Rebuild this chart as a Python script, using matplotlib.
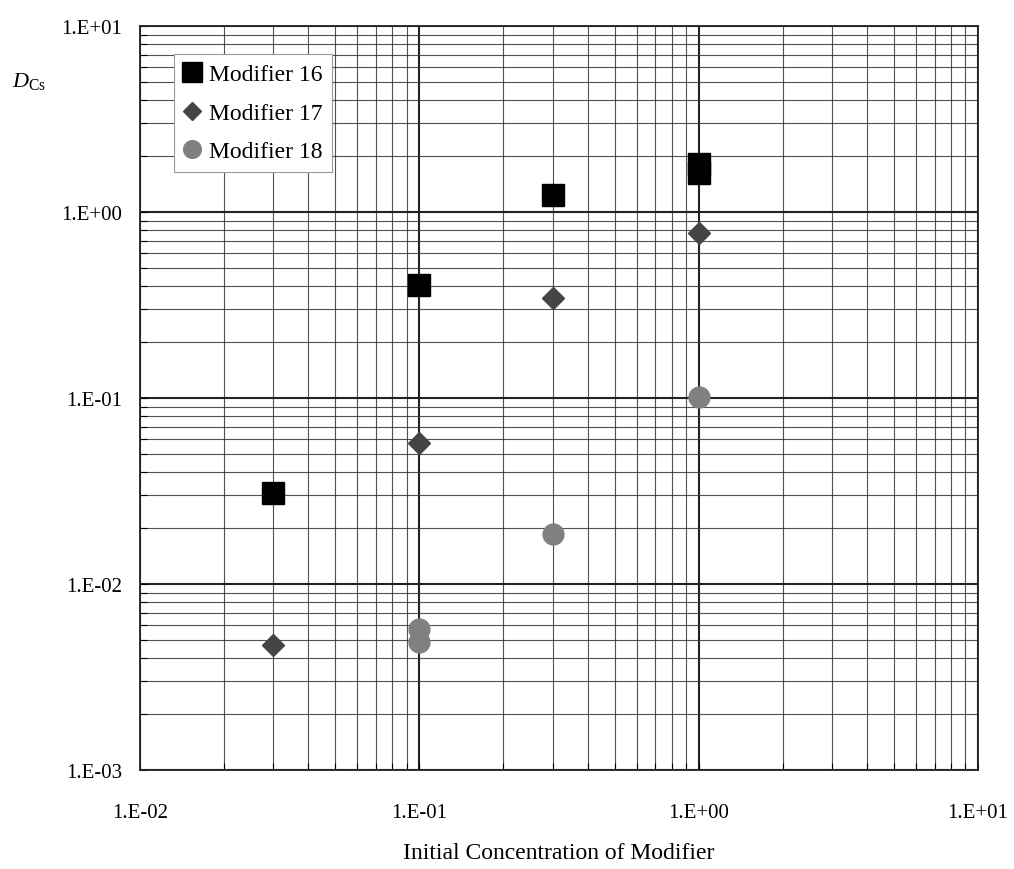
import matplotlib
matplotlib.use("Agg")
import matplotlib.pyplot as plt
from matplotlib.ticker import LogLocator, NullFormatter

plt.rcParams['font.family'] = ['Liberation Serif', 'DejaVu Serif']
plt.rcParams['mathtext.fontset'] = 'custom'
plt.rcParams['mathtext.rm'] = 'Liberation Serif'
plt.rcParams['mathtext.it'] = 'Liberation Serif:italic'

# Data
mod16_x = [0.03, 0.1, 0.3, 1.0, 1.0]
mod16_y = [0.031, 0.405, 1.23, 1.63, 1.82]
mod17_x = [0.03, 0.1, 0.3, 1.0]
mod17_y = [0.0047, 0.057, 0.345, 0.77]
mod18_x = [0.1, 0.1, 0.3, 1.0]
mod18_y = [0.0057, 0.0049, 0.0186, 0.101]

xticks = [0.01, 0.1, 1, 10]
xticklabels = ["1.E-02", "1.E-01", "1.E+00", "1.E+01"]
yticks = [0.001, 0.01, 0.1, 1, 10]
yticklabels = ["1.E-03", "1.E-02", "1.E-01", "1.E+00", "1.E+01"]

fig = plt.figure(figsize=(10.14, 8.70), dpi=100)
ax = fig.add_axes([140/1014, 99/870, 838/1014, 744/870])
ax.set_xscale('log')
ax.set_yscale('log')
ax.set_xlim(0.01, 10)
ax.set_ylim(0.001, 10)

ax.set_xticks(xticks)
ax.set_xticklabels(xticklabels)
ax.set_yticks(yticks)
ax.set_yticklabels(yticklabels)
ax.xaxis.set_minor_locator(LogLocator(base=10, subs=range(2, 10), numticks=20))
ax.yaxis.set_minor_locator(LogLocator(base=10, subs=range(2, 10), numticks=20))
ax.xaxis.set_minor_formatter(NullFormatter())
ax.yaxis.set_minor_formatter(NullFormatter())

ax.grid(which='major', color='#222222', linewidth=1.5)
ax.grid(which='minor', color='#333333', linewidth=0.8, alpha=0.85)
ax.set_axisbelow(True)

ax.tick_params(which='both', direction='in', length=5, width=0.8, labelsize=15)
ax.tick_params(axis='x', pad=24)
ax.tick_params(axis='y', pad=13)
for s in ax.spines.values():
    s.set_linewidth(1.3)
    s.set_color('#222222')

ax.plot(mod16_x, mod16_y, linestyle='none', marker='s', markersize=16.5,
        color='black', label='Modifier 16', zorder=5)
ax.plot(mod17_x, mod17_y, linestyle='none', marker='D', markersize=11,
        color='#454545', label='Modifier 17', zorder=5)
ax.plot(mod18_x, mod18_y, linestyle='none', marker='o', markersize=15,
        color='#808080', label='Modifier 18', zorder=5)

leg = ax.legend(loc='upper left', bbox_to_anchor=(0.040, 0.962), fontsize=17,
                frameon=True, fancybox=False, edgecolor='#999999', framealpha=1,
                handletextpad=0.3, borderpad=0.4, labelspacing=0.72,
                handlelength=0.8, markerscale=0.85, borderaxespad=0)
leg.get_frame().set_linewidth(0.8)

ax.set_xlabel('Initial Concentration of Modifier', fontsize=17, labelpad=14)
fig.text(12/1014, 1 - 82/870, r'$\mathit{D}_{\mathrm{Cs}}$', fontsize=16,
         ha='left', va='center')

fig.savefig('out.png', dpi=100)
